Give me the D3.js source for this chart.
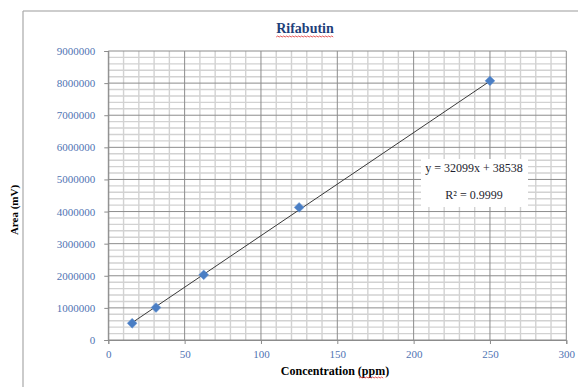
<!DOCTYPE html>
<html><head><meta charset="utf-8">
<script src="https://cdn.jsdelivr.net/npm/d3@7"></script>
<style>body{margin:0;background:#fff}svg{display:block}</style>
</head><body>
<script>
const concentrations = [15.625, 31.25, 62.5, 125, 250];
const areas = [520000, 1010000, 2030000, 4130000, 8070000];
const xTicks = [0, 50, 100, 150, 200, 250, 300];
const yTicks = [0, 1000000, 2000000, 3000000, 4000000, 5000000, 6000000, 7000000, 8000000, 9000000];
const slope = 32099, intercept = 38538;
const eqText = "y = 32099x + 38538";
const r2Text = "R² = 0.9999";

const W = 578, H = 387;
const m = {l:108.3, r:566.3, t:51, b:340};
const svg = d3.select("body").append("svg").attr("width", W).attr("height", H);
const serif = "'Liberation Serif','Times New Roman',serif";

// chart frame
svg.append("line").attr("x1",23).attr("x2",578).attr("y1",11).attr("y2",11).attr("stroke","#bcbcbc").attr("stroke-width",1.5);
svg.append("line").attr("x1",23).attr("x2",23).attr("y1",11).attr("y2",387).attr("stroke","#a8a8a8").attr("stroke-width",1.2);

const x = d3.scaleLinear().domain([0,300]).range([m.l, m.r]);
const y = d3.scaleLinear().domain([0,9000000]).range([m.b, m.t]);

const g = svg.append("g");
// minor gridlines
g.selectAll(".vmin").data(d3.range(0,301,10).filter(v=>v%50!==0)).join("line")
  .attr("x1",d=>x(d)).attr("x2",d=>x(d)).attr("y1",m.t).attr("y2",m.b).attr("stroke","#d2d2d2").attr("stroke-width",1.4);
g.selectAll(".hmin").data(d3.range(0,9000001,200000).filter(v=>v%1000000!==0)).join("line")
  .attr("x1",m.l).attr("x2",m.r).attr("y1",d=>y(d)).attr("y2",d=>y(d)).attr("stroke","#d2d2d2").attr("stroke-width",1.4);
// major gridlines
g.selectAll(".vmaj").data(xTicks).join("line")
  .attr("x1",d=>x(d)).attr("x2",d=>x(d)).attr("y1",m.t).attr("y2",m.b).attr("stroke","#8c8c8c").attr("stroke-width",1);
g.selectAll(".hmaj").data(yTicks).join("line")
  .attr("x1",m.l).attr("x2",m.r).attr("y1",d=>y(d)).attr("y2",d=>y(d)).attr("stroke","#8c8c8c").attr("stroke-width",1);

// axes
const xa = svg.append("g").attr("transform",`translate(0,${m.b})`)
  .call(d3.axisBottom(x).tickValues(xTicks).tickSize(4).tickPadding(4).tickFormat(d3.format("d")));
const ya = svg.append("g").attr("transform",`translate(${m.l},0)`)
  .call(d3.axisLeft(y).tickValues(yTicks).tickSize(4).tickPadding(9).tickFormat(d3.format("d")));
[xa,ya].forEach(a=>{
  a.select(".domain").attr("stroke","#8c8c8c");
  a.selectAll(".tick line").attr("stroke","#8c8c8c");
  a.selectAll("text").attr("fill","#4f74b3").style("font-family",serif).style("font-size","11px");
});
xa.selectAll("text").attr("dy","0.9em");

// trendline
svg.append("line")
  .attr("x1",x(concentrations[0])).attr("y1",y(slope*concentrations[0]+intercept))
  .attr("x2",x(concentrations[4])).attr("y2",y(slope*concentrations[4]+intercept))
  .attr("stroke","#3a3a3a").attr("stroke-width",1);

// markers
svg.selectAll(".pt").data(concentrations.map((c,i)=>[c,areas[i]])).join("path")
  .attr("d", d3.symbol().type(d3.symbolDiamond2).size(62))
  .attr("transform",d=>`translate(${x(d[0])},${y(d[1])})`)
  .attr("fill","#4a7ec4").attr("stroke","#6b98d6").attr("stroke-width",0.5);

// equation box
svg.append("rect").attr("x",421).attr("y",159).attr("width",107).attr("height",48).attr("fill","#fff");
svg.append("text").attr("x",474).attr("y",172).attr("text-anchor","middle")
  .style("font-family",serif).style("font-size","12px").attr("fill","#1e1e2e").text(eqText);
svg.append("text").attr("x",474).attr("y",199).attr("text-anchor","middle")
  .style("font-family",serif).style("font-size","12px").attr("fill","#1e1e2e").text(r2Text);

// title
const title = svg.append("text").attr("x",305).attr("y",33).attr("text-anchor","middle")
  .style("font-family",serif).style("font-size","14px").style("font-weight","bold").attr("fill","#1f3f7a").text("Rifabutin");
function wavy(x0,x1,yy){
  let p = `M${x0},${yy}`; let up=true;
  for(let xx=x0+1.5; xx<=x1; xx+=1.5){ p += `L${xx},${yy+(up?-1:0)}`; up=!up; }
  svg.append("path").attr("d",p).attr("fill","none").attr("stroke","#e03030").attr("stroke-width",0.8);
}
const tb = title.node().getBBox();
wavy(tb.x, tb.x+tb.width, 37);

// axis titles
const xt = svg.append("text").attr("x",335).attr("y",375).attr("text-anchor","middle")
  .style("font-family",serif).style("font-size","12px").style("font-weight","bold").attr("fill","#000").text("Concentration (ppm)");
svg.append("text").attr("transform","translate(18,210) rotate(-90)").attr("text-anchor","middle")
  .style("font-family",serif).style("font-size","11px").style("font-weight","bold").attr("fill","#000").text("Area (mV)");
const xb = xt.node().getBBox();
wavy(xb.x+xb.width-30, xb.x+xb.width-6, 378);
</script>
</body></html>
